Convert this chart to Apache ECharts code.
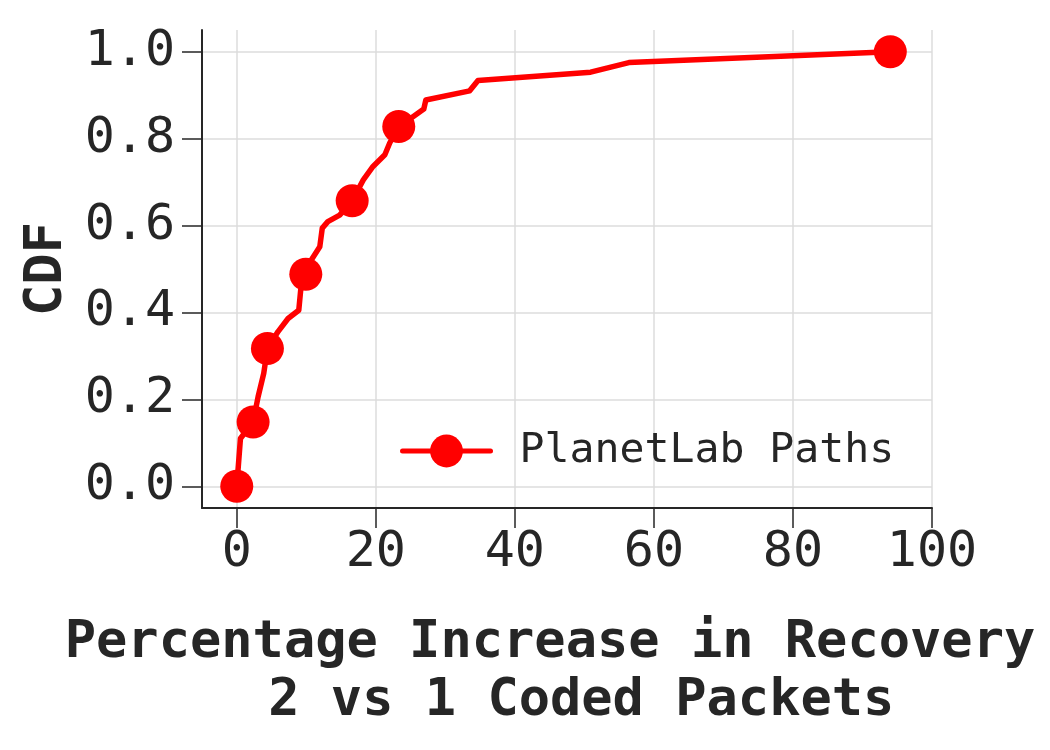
<!DOCTYPE html>
<html>
<head>
<meta charset="utf-8">
<script src="https://cdn.jsdelivr.net/npm/echarts/dist/echarts.min.js"></script>
<style>
  html, body { margin: 0; padding: 0; background: #fff; }
  #chart { width: 1050px; height: 750px; }
</style>
</head>
<body>
<div id="chart"></div>
<script>
// CDF of percentage increase in recovery
const xValues = [0, 0.53, 2.35, 3.07, 3.88, 4.41, 5.94, 7.38, 8.92, 9.2, 9.93, 10.7, 11.94, 12.3, 13.1, 14.8,
  16.6, 18.2, 19.6, 21.3, 22.0, 23.3, 25.4, 26.9, 27.2, 33.5, 34.7, 50.9, 56.4, 94.0]
const yValues = [0, 0.11, 0.148, 0.206, 0.26, 0.317, 0.356, 0.386, 0.405, 0.452, 0.488, 0.52, 0.551, 0.594, 0.609, 0.624,
  0.657, 0.705, 0.736, 0.763, 0.79, 0.828, 0.851, 0.868, 0.889, 0.91, 0.934, 0.953, 0.975, 1.0]
const markerIdx = [0, 2, 5, 10, 16, 21, 29]
const xTicks = [0, 20, 40, 60, 80, 100]
const yTicks = [0, 0.2, 0.4, 0.6, 0.8, 1.0]
const seriesName = 'PlanetLab Paths'

const font = 'DejaVu Sans Mono'
const ink = '#262626'

const chart = echarts.init(document.getElementById('chart'))

const points = xValues.map((x, i) => {
    const item = { value: [x, yValues[i]] }
    if (!markerIdx.includes(i)) item.symbol = 'none'
    return item
})

chart.setOption({
    animation: false,
    grid: { left: 202, right: 118, top: 30, bottom: 242, containLabel: false, outerBoundsMode: 'none' },
    legend: {
        data: [seriesName],
        left: 395,
        top: 425,
        itemWidth: 88,
        itemHeight: 41,
        lineStyle: { width: 5 },
        textStyle: { fontFamily: font, fontSize: 41.5, color: ink, padding: [0, 0, 0, 24] }
    },
    xAxis: {
        type: 'value',
        min: -5,
        max: 100,
        name: 'Percentage Increase in Recovery\n  2 vs 1 Coded Packets',
        nameLocation: 'middle',
        nameGap: 106,
        nameTextStyle: {
            fontFamily: font, fontSize: 52, fontWeight: 'bold', color: ink,
            lineHeight: 58, padding: [0, 34, 0, 0]
        },
        axisLine: { show: true, onZero: false, lineStyle: { color: ink, width: 2 } },
        axisTick: { show: true, length: 20, customValues: xTicks, lineStyle: { color: ink, width: 1.5 } },
        axisLabel: { customValues: xTicks, margin: 20, fontFamily: font, fontSize: 50, color: ink },
        splitLine: { show: true, lineStyle: { color: '#dcdcdc', width: 1.5 } }
    },
    yAxis: {
        type: 'value',
        min: -0.05,
        max: 1.05,
        name: 'CDF',
        nameLocation: 'middle',
        nameGap: 128,
        nameTextStyle: { fontFamily: font, fontSize: 52, fontWeight: 'bold', color: ink },
        axisLine: { show: true, onZero: false, lineStyle: { color: ink, width: 2 } },
        axisTick: { show: true, length: 20, customValues: yTicks, lineStyle: { color: ink, width: 1.5 } },
        axisLabel: {
            customValues: yTicks, margin: 27, fontFamily: font, fontSize: 50, color: ink,
            formatter: v => v.toFixed(1)
        },
        splitLine: { show: true, lineStyle: { color: '#dcdcdc', width: 1.5 } }
    },
    series: [
        {
            name: seriesName,
            type: 'line',
            data: points,
            symbol: 'circle',
            symbolSize: 33,
            showAllSymbol: true,
            itemStyle: { color: '#ff0000' },
            lineStyle: { color: '#ff0000', width: 5.5, cap: 'round', join: 'round' },
            z: 3
        }
    ]
})
</script>
</body>
</html>
